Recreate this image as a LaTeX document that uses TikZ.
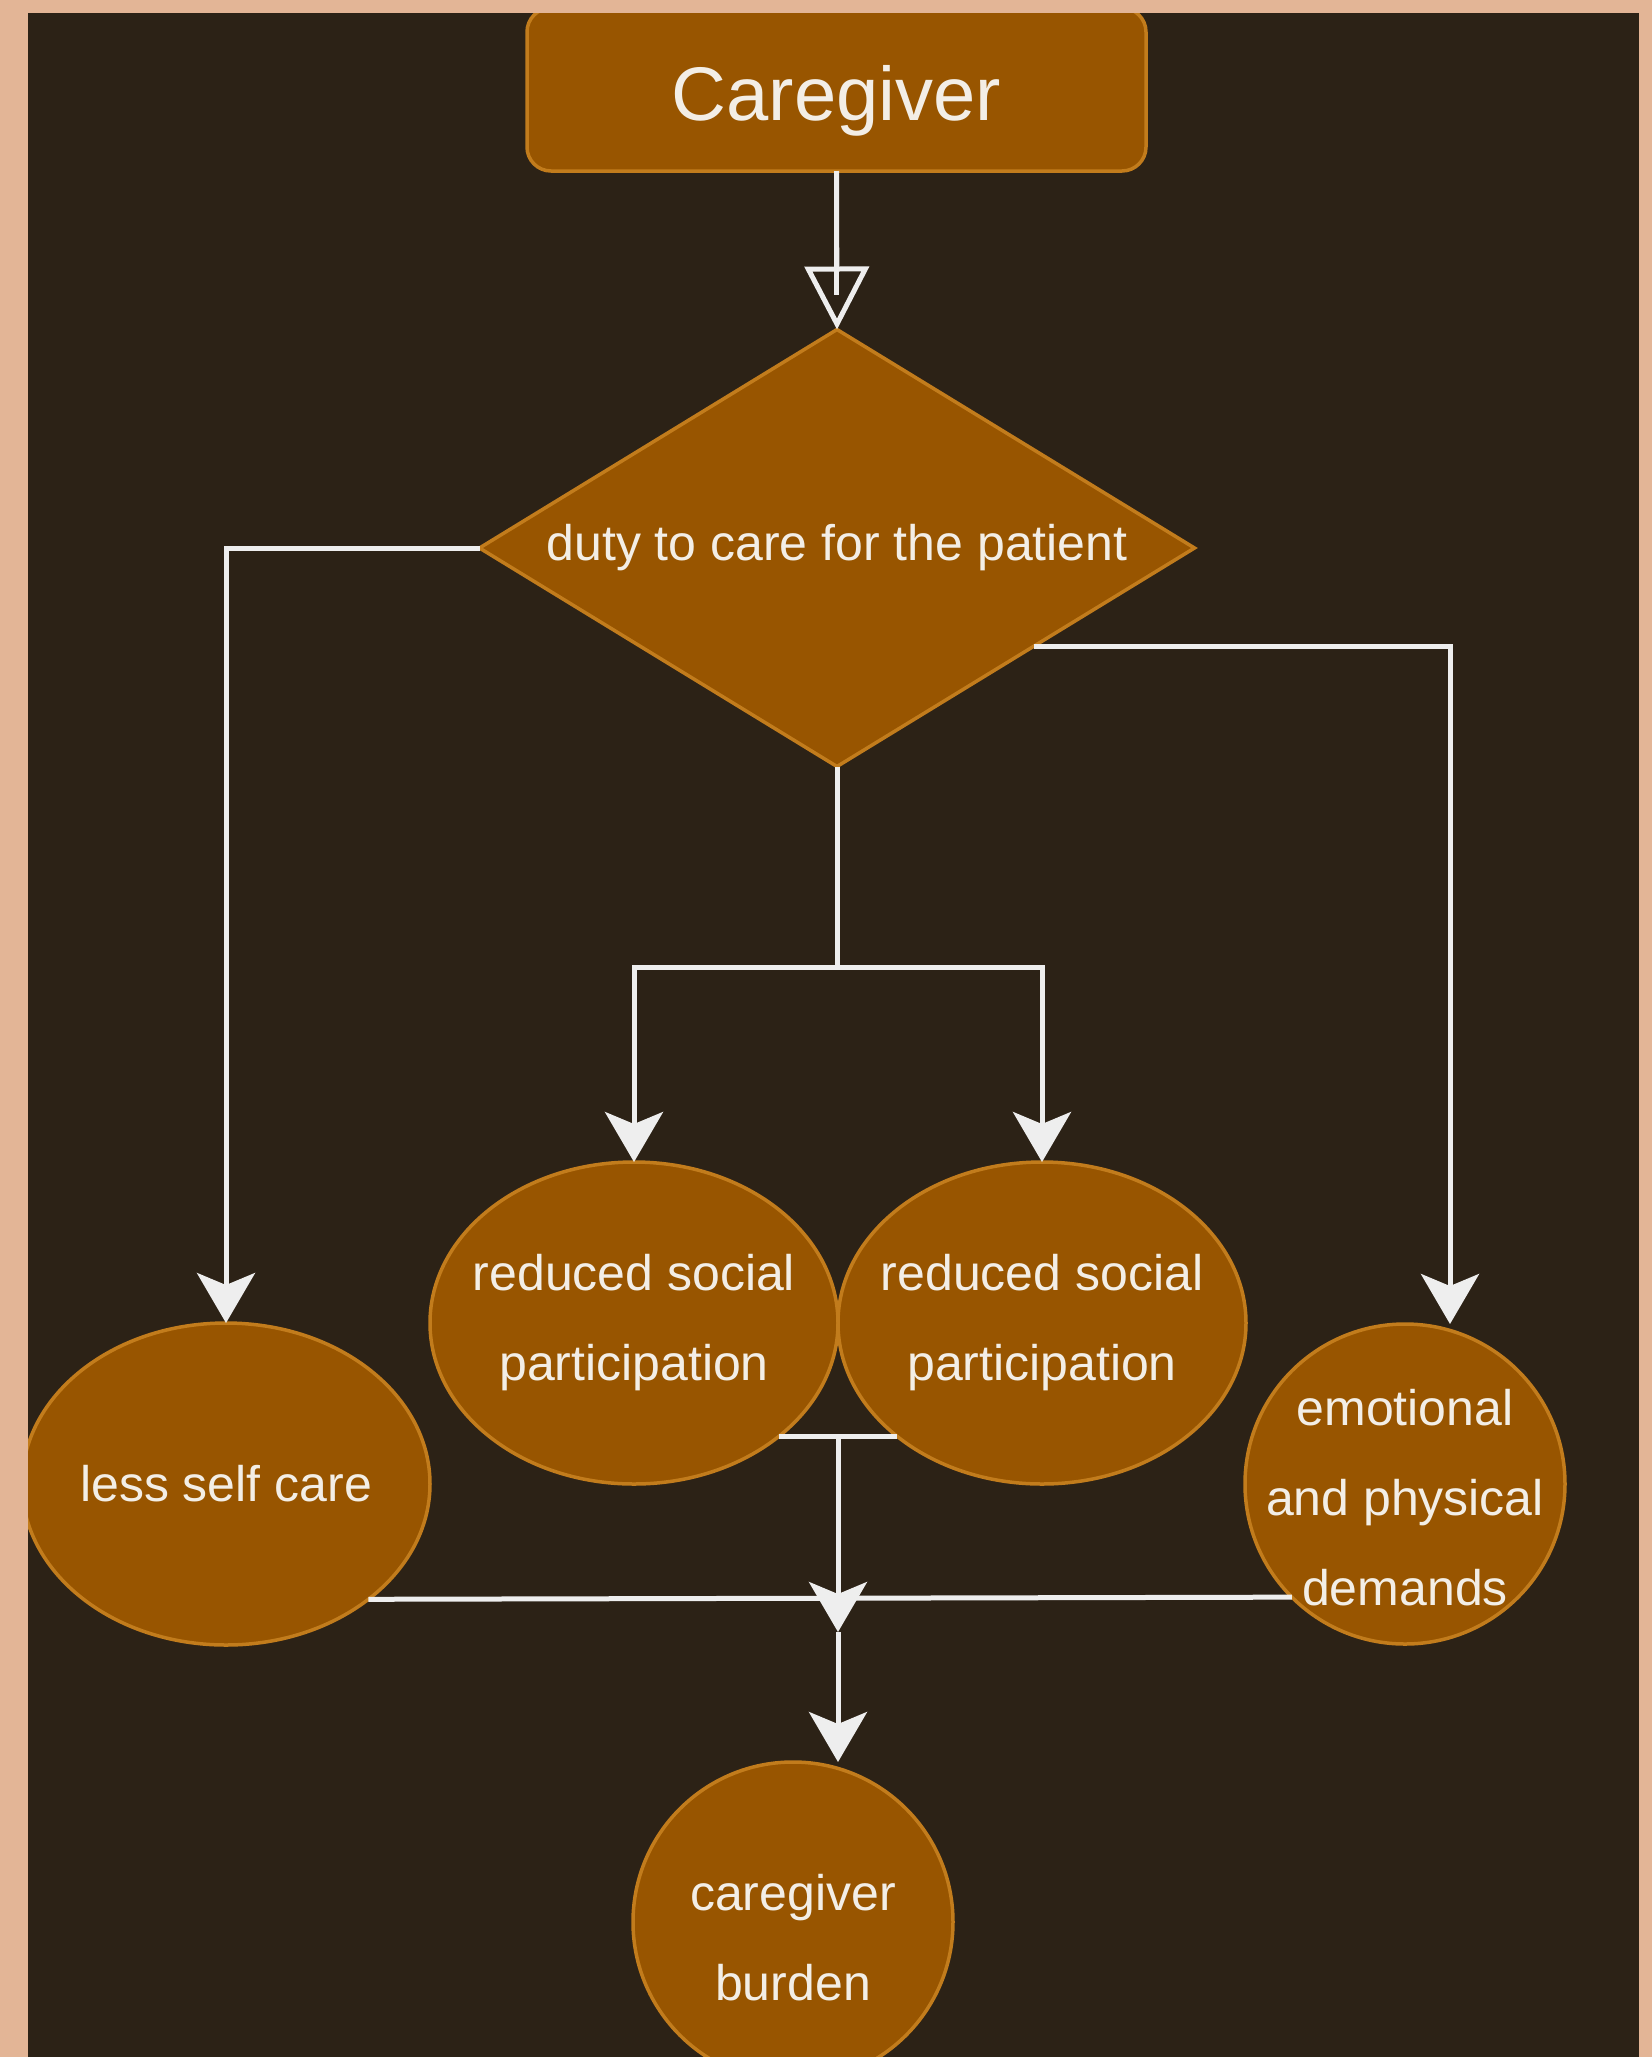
\documentclass[tikz,border=0pt]{standalone}
\usepackage{fontspec}
\setmainfont{Liberation Sans}
\usetikzlibrary{shapes.geometric,arrows.meta,calc}
\definecolor{peach}{HTML}{E3B596}
\definecolor{darkbg}{HTML}{2C2216}
\definecolor{nodefill}{HTML}{985500}
\definecolor{nodeline}{HTML}{C27C1C}
\definecolor{wire}{HTML}{EEEEEE}
\definecolor{txt}{HTML}{F3EEE6}
\tikzset{
  shapebase/.style={fill=nodefill, draw=nodeline, line width=3.5pt, text=txt,
    align=center, font=\fontsize{50}{90}\selectfont, outer sep=0pt},
  oval/.style={shapebase, ellipse, inner sep=-90pt, minimum height=322pt},
  disc/.style={shapebase, circle, inner sep=-90pt, minimum size=320pt},
  decision/.style={shapebase, diamond, aspect=1.636, inner sep=-10pt,
    minimum width=715pt, minimum height=437pt},
  headbox/.style={shapebase, rectangle, rounded corners=24pt, minimum width=619pt,
    minimum height=163pt, inner sep=0pt, font=\fontsize{76}{90}\selectfont},
  wline/.style={draw=wire, line width=5pt},
  warrow/.style={wline, -{Stealth[length=50pt,width=58pt,inset=12pt]}},
  openarrow/.style={wline, -{Triangle[open,length=63pt,width=64pt]}},
}
\begin{document}
\begin{tikzpicture}[x=1pt,y=-1pt]
\fill[peach] (0,0) rectangle (1652,2057);
\fill[darkbg] (28,13) rectangle (1639,2057);
\useasboundingbox (0,0) rectangle (1652,2057);
\begin{scope}
\clip (28,13) rectangle (1639,2057);
% nodes
\node[headbox] (cg) at (836.5,89.5) {\rule{0pt}{77pt}Caregiver};
\node[decision] (dia) at (837,548) {duty to care for the patient};
\node[oval, minimum width=408pt] (lsc) at (226,1484) {less self care};
\node[oval, minimum width=408pt] (rs1) at (634,1323) {reduced social\\participation};
\node[oval, minimum width=408pt] (rs2) at (1042,1323) {reduced social\\participation};
\node[disc] (emo) at (1405,1484) {\rule{0pt}{64pt}emotional\\and physical\\demands};
\node[disc] (bur) at (793,1922) {\rule{0pt}{68pt}caregiver\\burden};
% coordinates
\coordinate (split) at (837,967);
\coordinate (rp) at ($(dia.east)!0.45!(dia.south)$);
\coordinate (m) at (838,1632);
% connectors
\draw[openarrow] (cg.south) -- (dia.north);
\draw[wline] (cg.south) -- ++(0,124);
\draw[warrow] (dia.west) -| (lsc.north);
\draw[wline] (dia.south) -- (split);
\draw[warrow] (split) -| (rs1.north);
\draw[warrow] (split) -| (rs2.north);
\draw[warrow] (rp) -| ([xshift=45pt]emo.north);
\draw[wline] (rs1.-38) -- (rs2.-142) coordinate[midway] (j1);
\draw[wline] (lsc.-39) -- (emo.-135);
\draw[warrow] (j1) -- (m);
\draw[warrow] (m) -- ([xshift=45pt]bur.north);
\end{scope}
\end{tikzpicture}
\end{document}
